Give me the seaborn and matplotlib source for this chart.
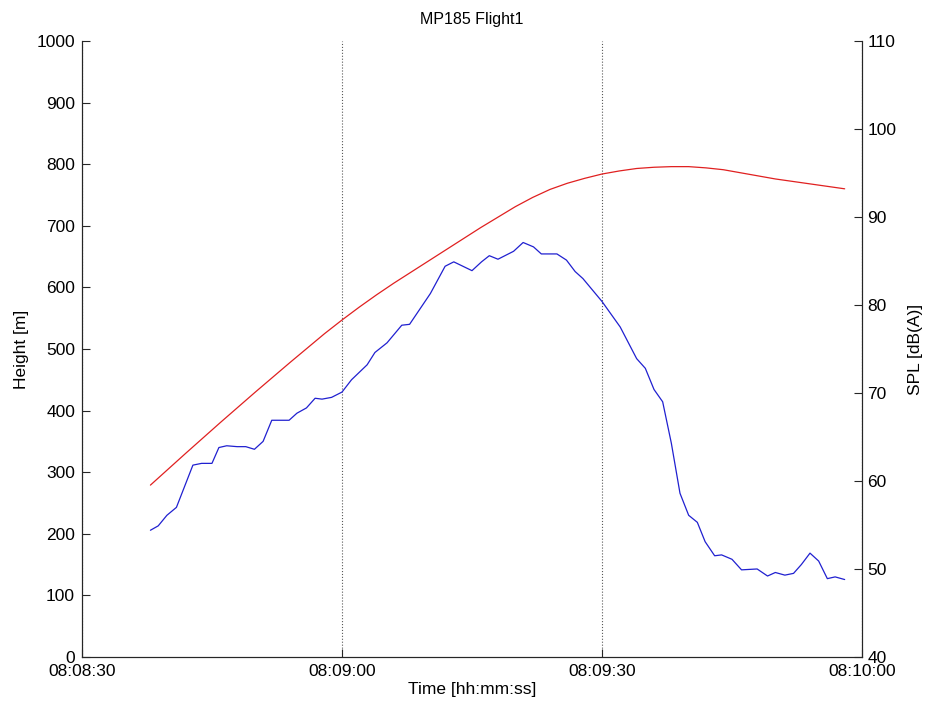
import matplotlib
matplotlib.use("Agg")
import matplotlib.pyplot as plt
import matplotlib.dates as mdates
import seaborn as sns
import pandas as pd

START = pd.Timestamp("2000-01-01 08:08:30")

# seconds after 08:08:30
height_t = [7.9, 12, 16, 20, 24, 28, 30, 32, 34, 36, 38, 40, 42, 44, 46, 48, 50, 52,
            54, 56, 58, 60, 62, 64, 66, 68, 70, 72, 74, 76, 78, 80, 82, 84, 86, 88]
height_m = [279, 331, 381, 430, 478, 525, 547, 568, 588, 607, 625, 643, 661, 679, 697, 714, 731, 746,
            759, 769, 777, 784, 789, 793, 795, 796, 796, 794, 791, 786, 781, 776, 772, 768, 764, 760]

spl_t = [7.9, 8.8, 9.8, 10.9, 12.8, 13.8, 15.0, 15.8, 16.7, 17.9,
         18.9, 19.9, 20.9, 21.9, 23.9, 24.8, 25.9, 26.9, 27.7, 28.8,
         30.0, 31.1, 32.9, 33.8, 35.2, 36.9, 37.8, 40.2, 41.9, 42.9,
         45.0, 46.1, 47.0, 48.0, 49.8, 50.9, 52.1, 53.0, 54.8, 55.9,
         56.9, 57.8, 58.9, 60.0, 62.1, 64.0, 65.0, 66.0, 67.0, 68.0,
         69.0, 70.0, 71.0, 71.9, 73.0, 73.8, 75.0, 76.1, 77.9, 79.1,
         80.0, 81.1, 82.1, 83.0, 84.0, 85.0, 86.0, 86.9, 88.0]
spl_db = [54.4, 54.9, 56.1, 57.0, 61.8, 62.0, 62.0, 63.8, 64.0, 63.9,
          63.9, 63.6, 64.5, 66.9, 66.9, 67.7, 68.3, 69.4, 69.3, 69.5,
          70.1, 71.5, 73.2, 74.6, 75.7, 77.7, 77.8, 81.3, 84.4, 84.9,
          83.9, 84.9, 85.6, 85.2, 86.1, 87.1, 86.6, 85.8, 85.8, 85.1,
          83.8, 83.0, 81.7, 80.4, 77.5, 73.9, 72.8, 70.4, 69.0, 64.3,
          58.6, 56.1, 55.3, 53.1, 51.5, 51.6, 51.1, 49.9, 50.0, 49.2,
          49.6, 49.3, 49.5, 50.5, 51.8, 50.9, 48.9, 49.1, 48.8]

sns.set_style("ticks")
plt.rcParams["font.family"] = ["Liberation Sans", "DejaVu Sans"]
plt.rcParams["text.color"] = "black"
plt.rcParams["axes.labelcolor"] = "black"
plt.rcParams["xtick.color"] = "black"
plt.rcParams["ytick.color"] = "black"
FS = 12.5

height_df = pd.DataFrame({"time": START + pd.to_timedelta(height_t, unit="s"), "height": height_m})
spl_df = pd.DataFrame({"time": START + pd.to_timedelta(spl_t, unit="s"), "spl": spl_db})

fig = plt.figure(figsize=(9.25, 7.04), dpi=100)
ax = fig.add_axes([0.0886, 0.0668, 0.8433, 0.875])
sns.lineplot(data=height_df, x="time", y="height", ax=ax, color="#e02020", linewidth=0.9)

ax2 = ax.twinx()
sns.lineplot(data=spl_df, x="time", y="spl", ax=ax2, color="#2020d0", linewidth=0.9)

ax.set_xlim(START, START + pd.Timedelta(seconds=90))
ax.set_ylim(0, 1000)
ax.set_yticks(range(0, 1001, 100))
ax2.set_ylim(40, 110)
ax2.set_yticks(range(40, 111, 10))

ax.xaxis.set_major_locator(mdates.SecondLocator(bysecond=[0, 30]))
ax.xaxis.set_major_formatter(mdates.DateFormatter("%H:%M:%S"))
ax.grid(axis="x", linestyle=":", color="0.35", linewidth=0.8)

for a in (ax, ax2):
    a.spines["top"].set_visible(False)
    for s in a.spines.values():
        s.set_linewidth(0.8)
        s.set_color("0.15")
    a.tick_params(direction="in", length=5.5, width=0.8, labelsize=FS,
                  color="0.15", labelcolor="black")
ax.tick_params(axis="y", pad=5)
ax.tick_params(axis="x", pad=5)
ax2.tick_params(axis="y", pad=4)

ax.set_xlabel("Time [hh:mm:ss]", fontsize=FS, labelpad=2)
ax.set_ylabel("Height [m]", fontsize=FS, labelpad=5)
ax2.set_ylabel("SPL [dB(A)]", fontsize=FS, labelpad=8)
ax.set_title("MP185 Flight1", fontsize=11.5, pad=12)

fig.savefig("out.png", dpi=100)
plt.close(fig)
